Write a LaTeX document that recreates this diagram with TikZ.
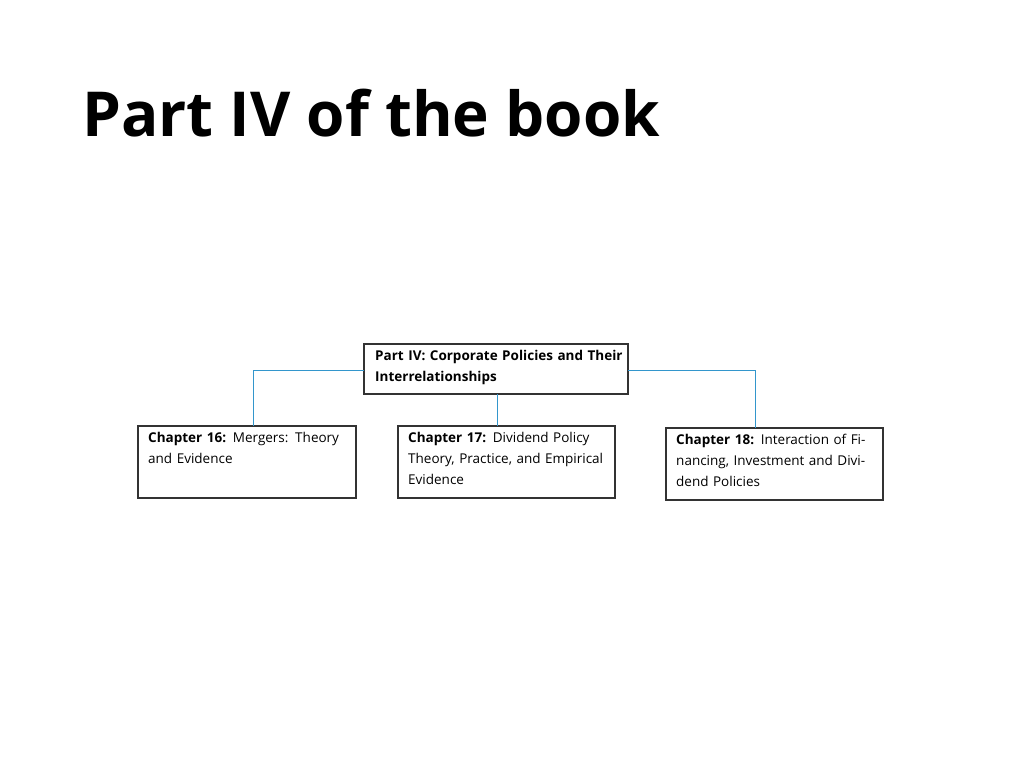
\documentclass[tikz,border=0pt]{standalone}
\usepackage{fontspec}
\setmainfont{Open Sans}
\begin{document}
\begin{tikzpicture}[x=1pt,y=-1pt,
  chap/.style={draw=black!80,line width=1.2pt,anchor=north west,inner sep=0pt,
    text width=#1,align=left,font=\fontsize{13.5}{21}\selectfont},
  link/.style={draw=blue!35!cyan!60!gray,line width=1pt}]

  \useasboundingbox (0,0) rectangle (1024,768);

  % title
  \node[anchor=base west,inner sep=0pt,font=\fontsize{62}{70}\bfseries\selectfont] (title) at (82,136) {Part IV of the book};

  % boxes
  \draw[black!80,line width=1.2pt] (364,344) rectangle (628,394);
  \coordinate (part) at (364,344);
  \node[anchor=north west,inner sep=0pt,text width=250,font=\fontsize{13.5}{21}\bfseries\selectfont] (parttxt) at (375,350) {Part IV: Corporate Policies and Their Interrelationships};

  \draw[black!80,line width=1.2pt] (138,426) rectangle (356,498);
  \node[anchor=north west,inner sep=0pt,text width=200,font=\fontsize{13.5}{21}\selectfont] (c16) at (148,432) {\textbf{Chapter 16:} Mergers: Theory and Evidence};

  \draw[black!80,line width=1.2pt] (398,426) rectangle (615,498);
  \node[anchor=north west,inner sep=0pt,text width=200,font=\fontsize{13.5}{21}\selectfont] (c17) at (408,432) {\textbf{Chapter 17:} Dividend Policy Theory, Practice, and Empirical Evidence};

  \draw[black!80,line width=1.2pt] (666,428) rectangle (883,500);
  \node[anchor=north west,inner sep=0pt,text width=200,font=\fontsize{13.5}{21}\selectfont] (c18) at (676,434) {\textbf{Chapter 18:} Interaction of Financing, Investment and Dividend Policies};

  % connectors
  \coordinate (lA) at (364,370);
  \coordinate (lB) at (253,370);
  \coordinate (lC) at (253,426);
  \coordinate (rA) at (628,370);
  \coordinate (rB) at (755,370);
  \coordinate (rC) at (755,428);
  \coordinate (mA) at (497,394);
  \coordinate (mB) at (497,426);
  \draw[link] (lA) -- (lB) -- (lC);
  \draw[link] (rA) -- (rB) -- (rC);
  \draw[link] (mA) -- (mB);
\end{tikzpicture}
\end{document}
